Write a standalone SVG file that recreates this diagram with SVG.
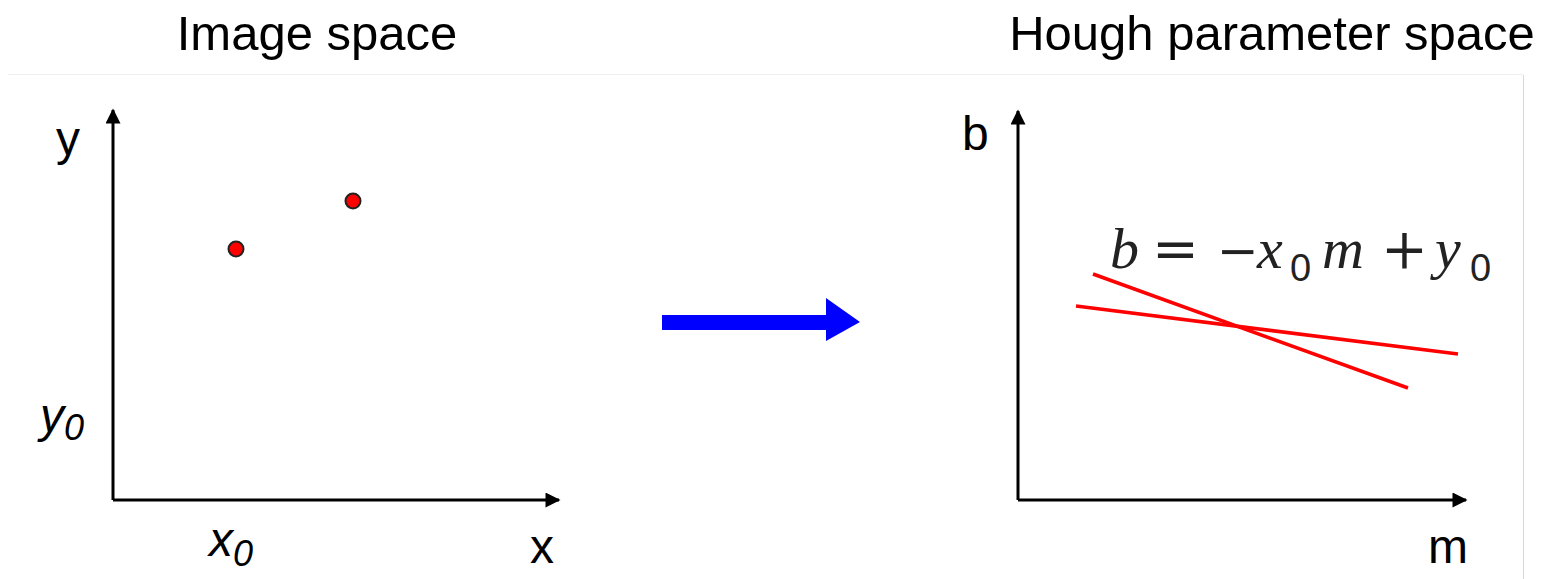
<svg xmlns="http://www.w3.org/2000/svg" width="1546" height="579" viewBox="0 0 1546 579">
<style>
.t{font-family:"Liberation Sans",Arial,sans-serif;fill:#000}
.ti{font-family:"Liberation Sans",Arial,sans-serif;font-style:italic;fill:#000}
.eq{font-family:"Liberation Serif","Times New Roman",serif;fill:#222}
.op{font-family:"DejaVu Serif",serif;fill:#222}
.sub{font-family:"Liberation Sans",Arial,sans-serif;fill:#222}
.ax{stroke:#000;stroke-width:3;fill:none}
.rl{stroke:#ff0000;stroke-width:3.5;fill:none}
</style>
<defs>
<marker id="ah" viewBox="0 0 10 10" refX="9" refY="5" markerWidth="5.5" markerHeight="5" orient="auto" markerUnits="strokeWidth">
<path d="M0,0 L10,5 L0,10 z" fill="#000"/>
</marker>
</defs>
<rect width="1546" height="579" fill="#fff"/>
<line x1="8" y1="74.5" x2="1523" y2="74.5" stroke="#eeeeee" stroke-width="1"/>
<line x1="1523.5" y1="75" x2="1523.5" y2="579" stroke="#d6d6d6" stroke-width="1"/>
<g id="titles">
<text class="t" x="317" y="50" font-size="49" text-anchor="middle">Image space</text>
<text class="t" x="1272" y="50" font-size="49" text-anchor="middle">Hough parameter space</text>
</g>
<g id="connectors">
<line class="ax" x1="113" y1="500" x2="559" y2="500" marker-end="url(#ah)"/>
<line class="ax" x1="113" y1="500" x2="113" y2="110" marker-end="url(#ah)"/>
<line class="ax" x1="1018" y1="500" x2="1466" y2="500" marker-end="url(#ah)"/>
<line class="ax" x1="1018" y1="500" x2="1018" y2="111" marker-end="url(#ah)"/>
<path d="M662,315 H826 V298 L860,322 L826,341 V330 H662 Z" fill="#0000ff"/>
</g>
<g id="image-space">
<text class="t" x="56" y="155" font-size="48">y</text>
<text class="ti" x="40" y="432" font-size="48">y<tspan font-size="36" dy="8">0</tspan></text>
<text class="ti" x="209" y="556" font-size="48">x<tspan font-size="36" dy="10">0</tspan></text>
<text class="t" x="530" y="563" font-size="48">x</text>
<circle cx="236" cy="249" r="7.5" fill="#ff0000" stroke="#222" stroke-width="2"/>
<circle cx="353" cy="201" r="7.5" fill="#ff0000" stroke="#222" stroke-width="2"/>
</g>
<g id="hough-space">
<text class="t" x="962" y="150" font-size="48">b</text>
<text class="t" x="1428" y="563" font-size="48">m</text>
<g font-size="58">
<text class="eq" x="1110" y="268" font-style="italic">b</text>
<text class="op" x="1152" y="268" font-size="56">=</text>
<text class="op" x="1217" y="268" font-size="50">−</text>
<text class="eq" x="1257" y="268" font-style="italic">x</text>
<text class="sub" x="1290" y="281" font-size="38">0</text>
<text class="eq" x="1322" y="268" font-style="italic">m</text>
<text class="op" x="1381" y="268" font-size="56">+</text>
<text class="eq" x="1435" y="268" font-style="italic">y</text>
<text class="sub" x="1470" y="281" font-size="38">0</text>
</g>
<line class="rl" x1="1093" y1="274" x2="1408" y2="388"/>
<line class="rl" x1="1076" y1="306" x2="1458" y2="354"/>
</g>
</svg>
